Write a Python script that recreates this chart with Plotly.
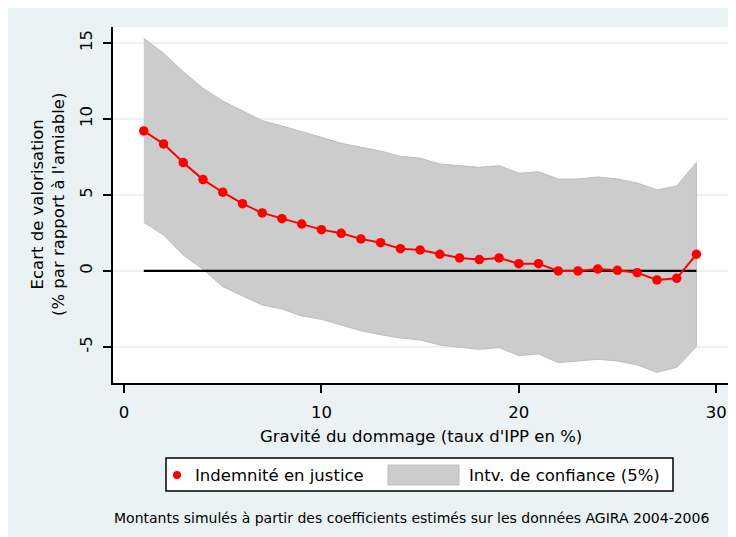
import plotly.graph_objects as go

# ---- data ----
gravite = list(range(1, 30))
indemnite = [9.21, 8.36, 7.13, 6.01, 5.18, 4.43, 3.82, 3.44, 3.09, 2.72,
             2.48, 2.11, 1.86, 1.47, 1.38, 1.10, 0.86, 0.75, 0.86, 0.48,
             0.48, 0.00, 0.00, 0.13, 0.04, -0.11, -0.59, -0.48, 1.10]
ic_haut = [15.31, 14.32, 13.11, 12.02, 11.18, 10.55, 9.89, 9.54, 9.14, 8.79,
           8.40, 8.16, 7.89, 7.54, 7.42, 7.04, 6.93, 6.82, 6.93, 6.43,
           6.53, 6.05, 6.05, 6.18, 6.05, 5.79, 5.33, 5.59, 7.13]
ic_bas = [3.20, 2.37, 1.05, 0.11, -1.03, -1.62, -2.24, -2.50, -2.96, -3.18,
          -3.55, -3.93, -4.19, -4.41, -4.54, -4.87, -5.02, -5.15, -5.04, -5.57,
          -5.46, -6.03, -5.92, -5.81, -5.92, -6.18, -6.67, -6.34, -4.98]
reference = [0] * len(gravite)
x_ticks = [0, 10, 20, 30]
y_ticks = [-5, 0, 5, 10, 15]
y_tick_labels = ["-5", "0", "5", "10", "15"]

# page offset of the figure (browser body margin)
OFF = 8
W, H = 736, 537
L, T = 113 - OFF, 27 - OFF
R = (W + OFF) - 728
B = (H + OFF) - 383
PW, PH = W - L - R, H - T - B
BG = "#EAF2F3"
FONT = "DejaVu Sans"
FS = 16.5


def px(x):
    return (x - OFF - L) / PW


def py(y):
    return (H - B - (y - OFF)) / PH


fig = go.Figure()

# confidence band
fig.add_trace(go.Scatter(
    x=gravite + gravite[::-1],
    y=ic_haut + ic_bas[::-1],
    fill="toself", fillcolor="#CCCCCC",
    line=dict(color="#BDBDBD", width=1),
    mode="lines", hoverinfo="skip", showlegend=False))

# zero reference line
fig.add_trace(go.Scatter(
    x=gravite, y=reference, mode="lines",
    line=dict(color="black", width=2.2), showlegend=False))

# estimates
fig.add_trace(go.Scatter(
    x=gravite, y=indemnite, mode="lines+markers",
    line=dict(color="#FF0000", width=2),
    marker=dict(color="#FF0000", size=9.5),
    showlegend=False))

shapes = [
    # legend box
    dict(type="rect", xref="paper", yref="paper",
         x0=px(166), x1=px(673), y0=py(458), y1=py(491),
         fillcolor="white", line=dict(color="black", width=1.5)),
    dict(type="circle", xref="paper", yref="paper",
         x0=px(173), x1=px(181), y0=py(471), y1=py(479),
         fillcolor="#FF0000", line=dict(color="#FF0000", width=0)),
    dict(type="rect", xref="paper", yref="paper",
         x0=px(388), x1=px(459), y0=py(465), y1=py(485),
         fillcolor="#CCCCCC", line=dict(color="#BDBDBD", width=1)),
]

annotations = [
    dict(text="Indemnité en justice", xref="paper", yref="paper",
         x=px(193), y=py(475), xanchor="left", yanchor="middle",
         showarrow=False, font=dict(family=FONT, size=FS, color="black")),
    dict(text="Intv. de confiance (5%)", xref="paper", yref="paper",
         x=px(467), y=py(475), xanchor="left", yanchor="middle",
         showarrow=False, font=dict(family=FONT, size=FS, color="black")),
    dict(text="Montants simulés à partir des coefficients estimés sur les données AGIRA 2004-2006",
         xref="paper", yref="paper", x=px(112), y=py(518),
         xanchor="left", yanchor="middle", showarrow=False,
         font=dict(family=FONT, size=14, color="black")),
    dict(text="Gravité du dommage (taux d'IPP en %)", xref="paper", yref="paper",
         x=px(421), y=py(436), xanchor="center", yanchor="middle",
         showarrow=False, font=dict(family=FONT, size=FS, color="black")),
    dict(text="Ecart de valorisation<br>(% par rapport à l'amiable)",
         xref="paper", yref="paper", x=px(48), y=py(205),
         xanchor="center", yanchor="middle", textangle=-90,
         showarrow=False, font=dict(family=FONT, size=FS, color="black")),
]

fig.update_layout(
    width=W, height=H,
    margin=dict(l=L, r=R, t=T, b=B, pad=0),
    paper_bgcolor=BG, plot_bgcolor="white",
    font=dict(family=FONT, size=FS, color="black"),
    shapes=shapes, annotations=annotations,
    showlegend=False,
)
fig.update_xaxes(
    range=[-0.56, 30.6], tickvals=x_ticks, ticks="outside", ticklen=8,
    tickwidth=1.5, tickcolor="black", showline=True, linecolor="black",
    linewidth=1.5, showgrid=False, zeroline=False, ticklabelstandoff=5,
    tickfont=dict(family=FONT, size=FS))
fig.update_yaxes(
    range=[-7.37, 16.05], tickvals=y_ticks, ticktext=y_tick_labels,
    ticks="outside", ticklen=8,
    tickwidth=1.5, tickcolor="black", showline=True, linecolor="black",
    linewidth=1.5, showgrid=True, gridcolor=BG, gridwidth=1.5,
    zeroline=False, tickangle=-90, ticklabelstandoff=5,
    tickfont=dict(family=FONT, size=FS))

fig.write_html("out.html")
